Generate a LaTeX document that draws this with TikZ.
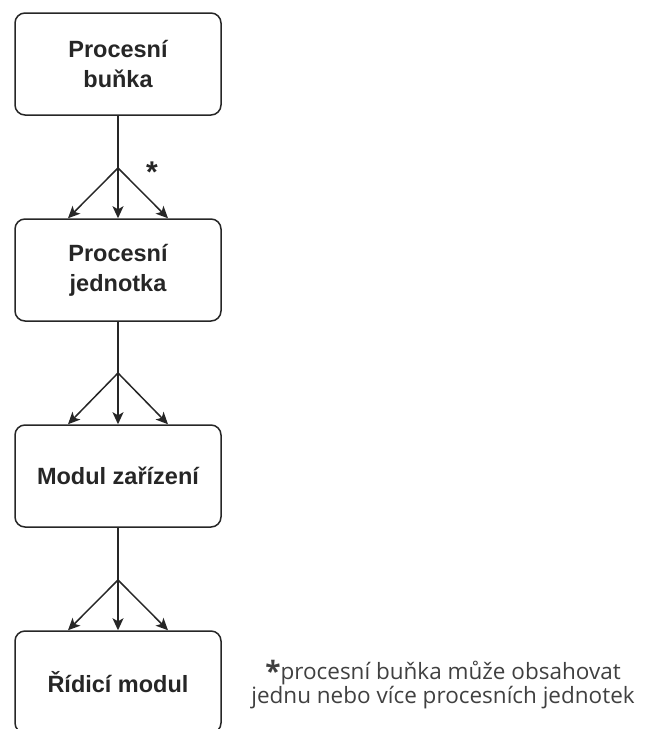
\documentclass[tikz,border=0pt]{standalone}
\usepackage{fontspec}
\setmainfont{Liberation Sans}
\newfontfamily\notefont{Open Sans}
\usetikzlibrary{arrows.meta}
\begin{document}
\begin{tikzpicture}[x=1pt,y=-1pt,
  unitbox/.style={draw=black!85,line width=1.5pt,rounded corners=10pt,
    minimum width=206pt,minimum height=102pt,align=center,
    font=\bfseries\fontsize{23.5}{30}\selectfont,text=black!85},
  link/.style={draw=black!85,line width=1.5pt},
  fan/.style={link,-{Stealth[length=12pt,width=11pt,inset=3pt]}}]
\useasboundingbox (0,0) rectangle (648,729);
\clip (0,0) rectangle (648,729);
% hierarchy of units
\node[unitbox] (cell)   at (118,64)  {Procesní\\buňka};
\node[unitbox] (unit)   at (118,270) {Procesní\\jednotka};
\node[unitbox] (module) at (118,476) {Modul zařízení};
\node[unitbox] (ctrl)   at (118,682) {Řídicí modul};
% one-to-many fans between levels
\foreach \a/\b/\y in {cell/unit/168, unit/module/373, module/ctrl/580}{
  \coordinate (f-\a) at (118,\y);
  \draw[link] (\a.south) -- (f-\a);
  \draw[fan] (f-\a) -- ([xshift=-50pt]\b.north);
  \draw[fan] (f-\a) -- (\b.north);
  \draw[fan] (f-\a) -- ([xshift=50pt]\b.north);
}
\node[font=\bfseries\fontsize{30}{30}\selectfont,text=black!85] (star) at (152,172) {*};
% footnote
\node[align=center,font=\notefont\fontsize{22.5}{24}\selectfont,text=black!75] (note) at (443,685)
  {\raisebox{-2pt}{\fontsize{28}{28}\selectfont\bfseries *}procesní buňka může obsahovat\\jednu nebo více procesních jednotek};
\end{tikzpicture}
\end{document}
